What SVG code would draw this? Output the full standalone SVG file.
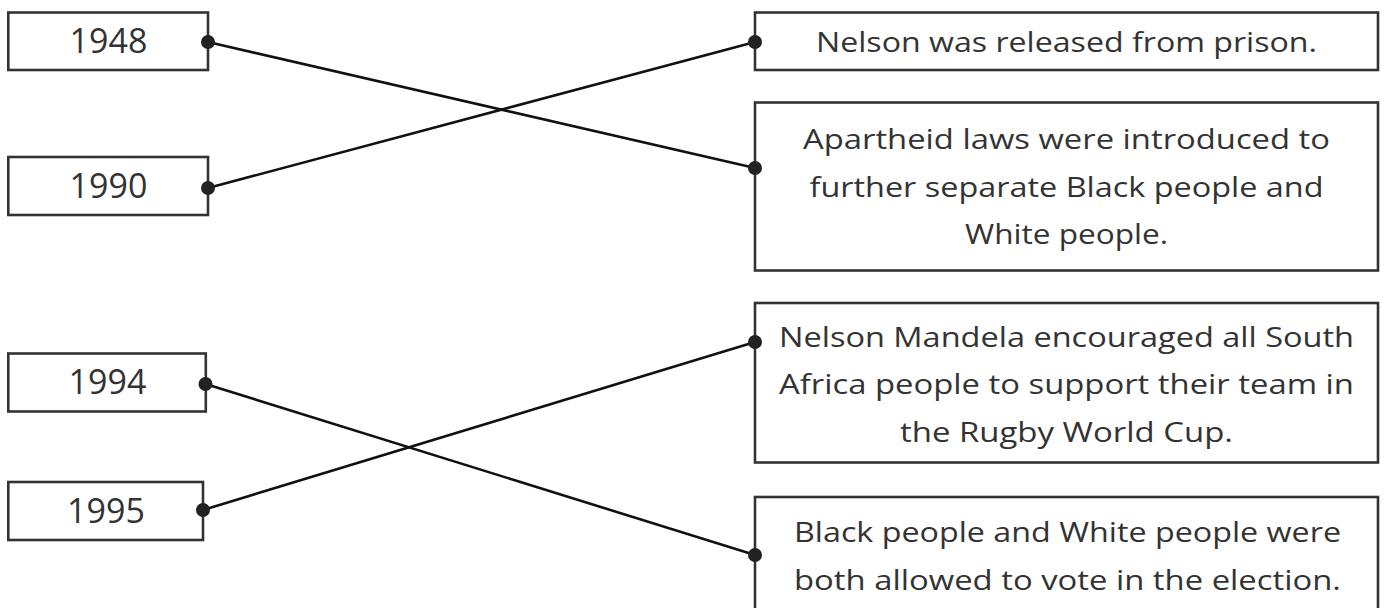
<svg xmlns="http://www.w3.org/2000/svg" width="1384" height="608" viewBox="0 0 1384 608">
<style>
.box{fill:#fff;stroke:#333;stroke-width:2.6}
.yr{font-family:"Open Sans","Noto Sans",sans-serif;font-size:34px;fill:#333;text-anchor:middle}
.tx{font-family:"Open Sans","Noto Sans",sans-serif;font-size:28px;fill:#333;text-anchor:middle}
.ln{stroke:#111;stroke-width:2.6;fill:none}
.dot{fill:#222}
</style>
<rect width="1384" height="608" fill="#fff"/>
<g id="node-1948"><rect class="box" x="8.3" y="12.5" width="199.7" height="57.5"/><text class="yr" x="108.5" y="53">1948</text></g>
<g id="node-1990"><rect class="box" x="8.3" y="157" width="199.7" height="58"/><text class="yr" x="108.5" y="198">1990</text></g>
<g id="node-1994"><rect class="box" x="8.3" y="353.5" width="197.5" height="58"/><text class="yr" x="107.5" y="394">1994</text></g>
<g id="node-1995"><rect class="box" x="8.3" y="482" width="194.7" height="58"/><text class="yr" x="106" y="523">1995</text></g>
<g id="node-released"><rect class="box" x="755" y="12.5" width="623" height="57.5"/><text class="tx" x="1066.5" y="52" textLength="501" lengthAdjust="spacingAndGlyphs">Nelson was released from prison.</text></g>
<g id="node-apartheid"><rect class="box" x="755" y="102.5" width="623" height="168"/>
<text class="tx" x="1066.5" y="149" textLength="527" lengthAdjust="spacingAndGlyphs">Apartheid laws were introduced to</text>
<text class="tx" x="1066.5" y="197" textLength="514" lengthAdjust="spacingAndGlyphs">further separate Black people and</text>
<text class="tx" x="1066.5" y="244" textLength="203" lengthAdjust="spacingAndGlyphs">White people.</text></g>
<g id="node-rugby"><rect class="box" x="755" y="303" width="623" height="159.5"/>
<text class="tx" x="1066.5" y="347" textLength="575" lengthAdjust="spacingAndGlyphs">Nelson Mandela encouraged all South</text>
<text class="tx" x="1066.5" y="394" textLength="575" lengthAdjust="spacingAndGlyphs">Africa people to support their team in</text>
<text class="tx" x="1066.5" y="442" textLength="333" lengthAdjust="spacingAndGlyphs">the Rugby World Cup.</text></g>
<g id="node-vote"><rect class="box" x="755" y="497" width="623" height="140"/>
<text class="tx" x="1067.5" y="542" textLength="547" lengthAdjust="spacingAndGlyphs">Black people and White people were</text>
<text class="tx" x="1067.5" y="590" textLength="547" lengthAdjust="spacingAndGlyphs">both allowed to vote in the election.</text></g>
<g id="connectors">
<line class="ln" x1="208" y1="42" x2="755" y2="168"/>
<line class="ln" x1="208" y1="188" x2="755" y2="42"/>
<line class="ln" x1="205.5" y1="384" x2="755" y2="555"/>
<line class="ln" x1="203" y1="510" x2="755" y2="342"/>
<circle class="dot" cx="208" cy="42" r="7"/>
<circle class="dot" cx="208" cy="188" r="7"/>
<circle class="dot" cx="205.5" cy="384" r="7"/>
<circle class="dot" cx="203" cy="510" r="7"/>
<circle class="dot" cx="755" cy="42" r="7"/>
<circle class="dot" cx="755" cy="168" r="7"/>
<circle class="dot" cx="755" cy="342" r="7"/>
<circle class="dot" cx="755" cy="555" r="7"/>
</g>
</svg>
